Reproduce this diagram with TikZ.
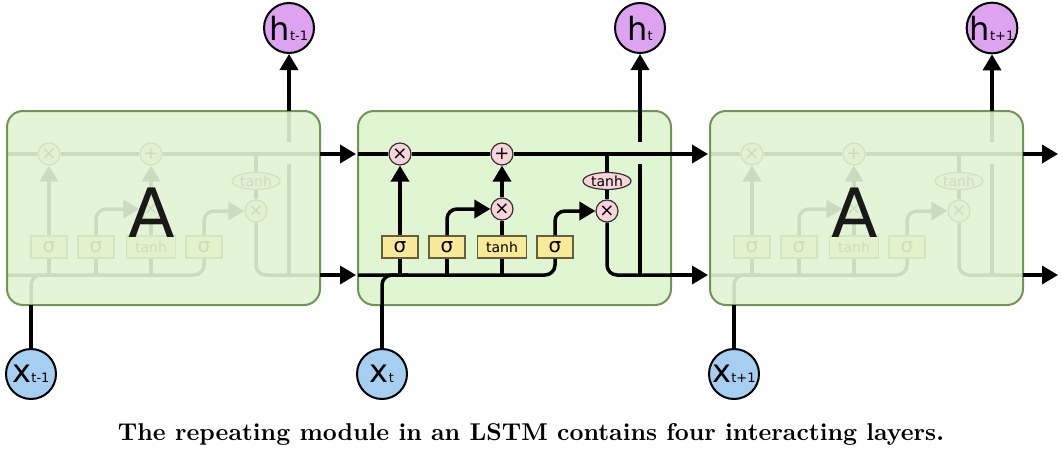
\documentclass[tikz,border=0pt]{standalone}
\usepackage{fontspec}
\usepackage{graphicx}
\usetikzlibrary{arrows.meta,shapes.geometric}
\newfontfamily\dv{DejaVu Sans}
\definecolor{boxfill}{RGB}{224,245,210}
\definecolor{boxline}{RGB}{110,150,85}
\definecolor{opfill}{RGB}{250,212,218}
\definecolor{gatefill}{RGB}{248,234,152}
\definecolor{gateline}{RGB}{100,95,60}
\definecolor{hfill}{RGB}{221,163,240}
\definecolor{xfill}{RGB}{166,206,240}
\tikzset{
  ln/.style={line width=3.5pt, draw=black},
  arr/.style={ln, -{Triangle[length=16pt,width=18pt]}},
  op/.style={circle, draw=black!80, line width=1.2pt, fill=opfill, minimum size=22pt, inner sep=0pt, font=\dv\fontsize{18}{18}\selectfont},
  gatebox/.style={rectangle, draw=gateline, line width=1.2pt, fill=gatefill, minimum width=36pt, minimum height=22pt, inner sep=0pt, font=\dv\fontsize{20}{20}\selectfont},
  tanhgate/.style={gatebox, minimum width=49pt, font=\dv\fontsize{14}{14}\selectfont},
  tanhell/.style={ellipse, draw=black!80, line width=1.2pt, fill=opfill, minimum width=48pt, minimum height=17pt, inner sep=0pt, font=\dv\fontsize{14}{14}\selectfont},
  cellbox/.style={rectangle, rounded corners=16pt, draw=boxline, line width=2pt, fill=boxfill, minimum width=313pt, minimum height=194pt, inner sep=0pt},
  bigA/.style={font=\dv\fontsize{68}{68}\selectfont, text=black!90, inner sep=0pt},
  hnode/.style={circle, draw=black, line width=2pt, fill=hfill, minimum size=50pt, inner sep=0pt, font=\dv\fontsize{32}{32}\selectfont},
  xnode/.style={hnode, fill=xfill},
  caption/.style={font=\bfseries, inner sep=0pt}
}
\newcommand{\sbs}[1]{{\fontsize{13}{13}\selectfont #1}}
\newcommand{\cellinner}{%
  \coordinate (cin) at (0,154); \coordinate (cout) at (313,154);
  \coordinate (hin) at (0,275); \coordinate (hout) at (313,275);
  \coordinate (xin) at (24,305); \coordinate (htop) at (282,111);
  \coordinate (tj) at (249,154);
  \coordinate (hj) at (282,275); \coordinate (hg1) at (282,164); \coordinate (hg2) at (282,142);
  \node[op] (f) at (42,154) {×};
  \node[op] (i) at (144,154) {+};
  \node[op] (m) at (144,209) {×};
  \node[op] (o) at (249,211) {×};
  \node[tanhell] (th) at (249,181) {tanh};
  \node[gatebox] (g1) at (42,247) {σ};
  \node[gatebox] (g2) at (89,247) {σ};
  \node[tanhgate] (g3) at (144,247) {tanh};
  \node[gatebox] (g4) at (197,247) {σ};
  \draw[ln] (cin) -- (f) -- (i) -- (cout);
  \draw[ln] (tj) -- (th);
  \draw[ln] (th) -- (o);
  \draw[ln, rounded corners=10pt] (hin) -- (g4.south |- hin) -- (g4);
  \draw[ln] (g1.south |- hin) -- (g1);
  \draw[ln] (g2.south |- hin) -- (g2);
  \draw[ln] (g3.south |- hin) -- (g3);
  \draw[ln, rounded corners=10pt] (xin) -- (24,275) -- (50,275);
  \draw[arr] (g1) -- (f);
  \draw[arr, rounded corners=10pt] (g2) -- (g2.north |- m) -- (m);
  \draw[ln] (g3) -- (m);
  \draw[arr] (m) -- (i);
  \draw[arr, rounded corners=10pt] (g4) -- (g4.north |- o) -- (o);
  \draw[ln, rounded corners=10pt] (o) -- (o |- hout) -- (hout);
  \draw[ln] (hj) -- (hg1);
  \draw[ln] (hg2) -- (htop);
}
\begin{document}
\begin{tikzpicture}[x=1pt,y=-1pt]
\useasboundingbox[fill=white] (0,0) rectangle (1062,452);
% left cell (faded)
\begin{scope}[shift={(7,0)}, name prefix=L-]
  \cellinner
  \node[cellbox, fill opacity=0.9] (box) at (156.5,208) {};
  \node[bigA] (A) at (145,213) {A};
\end{scope}
% middle cell
\begin{scope}[shift={(358,0)}, name prefix=M-]
  \node[cellbox] (box) at (156.5,208) {};
  \cellinner
\end{scope}
% right cell (faded)
\begin{scope}[shift={(710,0)}, name prefix=R-]
  \cellinner
  \node[cellbox, fill opacity=0.9] (box) at (156.5,208) {};
  \node[bigA] (A) at (145,213) {A};
\end{scope}
% outputs and inputs
\node[hnode] (h1) at (289,28) {h\sbs{t-1}};
\node[hnode] (h2) at (640,28) {h\sbs{t}};
\node[hnode] (h3) at (992,28) {h\sbs{t+1}};
\node[xnode] (x1) at (31,374) {x\sbs{t-1}};
\node[xnode] (x2) at (382,374) {x\sbs{t}};
\node[xnode] (x3) at (734,374) {x\sbs{t+1}};
\draw[arr] (L-htop) -- (h1);
\draw[arr] (M-htop) -- (h2);
\draw[arr] (R-htop) -- (h3);
\draw[ln] (x1) -- (L-xin);
\draw[ln] (x2) -- (M-xin);
\draw[ln] (x3) -- (R-xin);
% connections between cells
\coordinate (endc) at (1058,154);
\coordinate (endh) at (1058,275);
\draw[arr] (L-cout) -- ([xshift=-2pt]M-cin);
\draw[arr] (L-hout) -- ([xshift=-2pt]M-hin);
\draw[arr] (M-cout) -- ([xshift=-2pt]R-cin);
\draw[arr] (M-hout) -- ([xshift=-2pt]R-hin);
\draw[arr] (R-cout) -- (endc);
\draw[arr] (R-hout) -- (endh);
% caption
\node[caption, anchor=base] (cap) at (531,440) {\resizebox{826pt}{!}{The repeating module in an LSTM contains four interacting layers.}};
\end{tikzpicture}
\end{document}
